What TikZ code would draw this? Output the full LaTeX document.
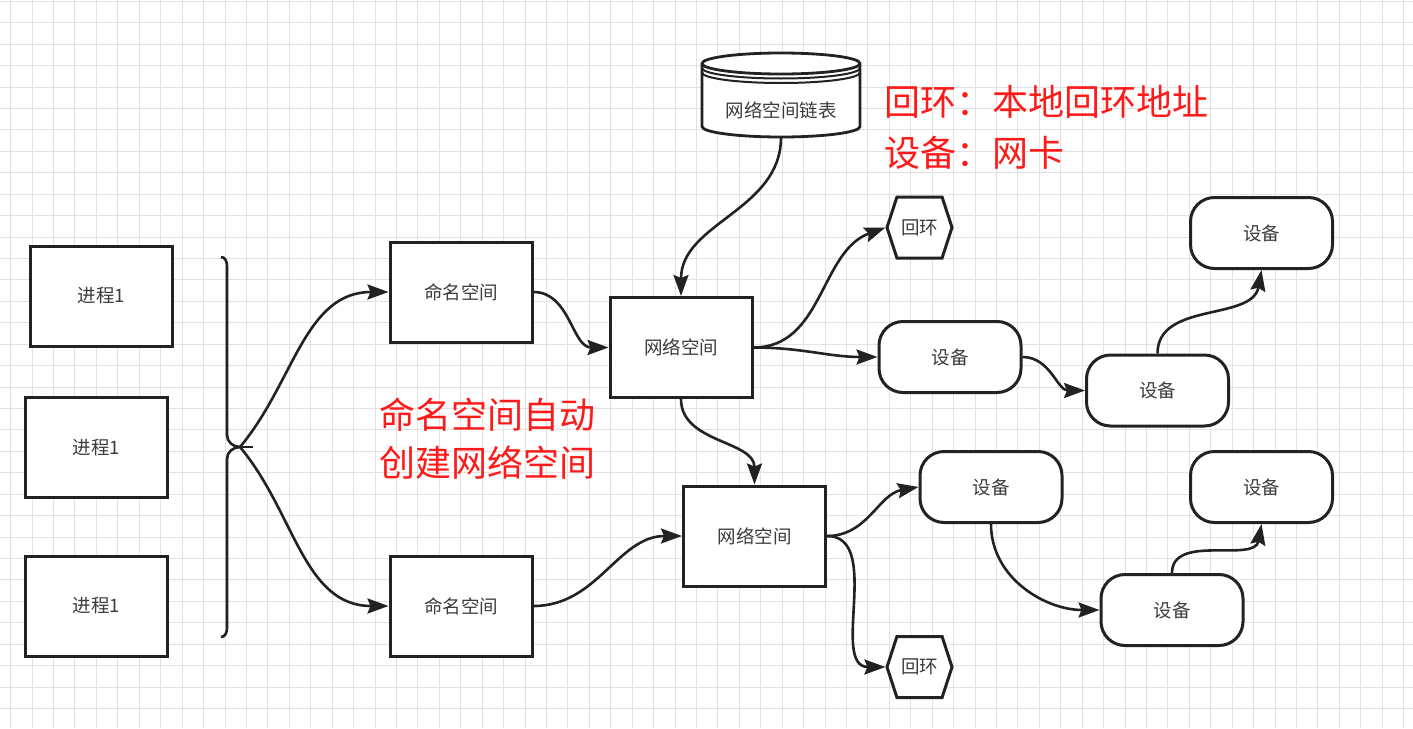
\documentclass[tikz,border=0pt]{standalone}
\usepackage{fontspec}
\newfontfamily\cjk{Noto Sans CJK SC}
\usetikzlibrary{arrows.meta,shapes.symbols}

\definecolor{inkgray}{HTML}{222222}
\definecolor{txtgray}{HTML}{3C3C3C}
\definecolor{gridgray}{HTML}{E2E2E2}
\definecolor{notered}{HTML}{FF1A1A}

\tikzset{
  box/.style={draw=inkgray,line width=3pt,fill=white,minimum width=142pt,minimum height=100pt,inner sep=0pt,text=txtgray,font=\cjk\fontsize{18.5}{22}\selectfont},
  dev/.style={box,rounded corners=24pt,minimum height=71pt},
  loopbox/.style={box,signal,signal to=west and east,signal pointer angle=144,minimum width=65pt,minimum height=61pt},
  plain/.style={inner sep=0pt,text=txtgray,font=\cjk\fontsize{18.5}{22}\selectfont},
  link/.style={draw=inkgray,line width=2.6pt,-{Stealth[length=21pt,width=15pt,inset=3pt]}},
  note/.style={inner sep=0pt,text=notered,align=left,font=\cjk\fontsize{36}{48}\selectfont},
  gridline/.style={draw=gridgray,line width=1pt},
}

\begin{document}
\begin{tikzpicture}[x=1pt,y=-1pt]
\useasboundingbox (0,0) rectangle (1413,728);
\fill[white] (0,0) rectangle (1413,728);

% grid
\foreach \i in {0,...,65}
  \draw[gridline] ({10.7+21.43*\i},0) -- ({10.7+21.43*\i},728);
\foreach \j in {0,...,33}
  \draw[gridline] (0,{1.3+21.43*\j}) -- (1413,{1.3+21.43*\j});

% processes
\node[box] (proc1) at (101.5,296) {进程1};
\node[box] (proc2) at (96.5,447.5) {进程1};
\node[box] (proc3) at (96.5,606) {进程1};

% brace
\draw[inkgray,line width=2.6pt] (221,257) to[out=0,in=90] (227,266) -- (227,435)
  to[out=-90,in=180] (240,447) to[out=180,in=90] (227,459) -- (227,628)
  to[out=-90,in=0] (221,637);
\coordinate (tip) at (240,447);
\draw[inkgray,line width=2.6pt] (tip) -- (253,447);

% namespaces
\node[box] (ns1) at (461,292) {命名空间};
\node[box] (ns2) at (461,606) {命名空间};

% list of network spaces
\filldraw[fill=white,draw=inkgray,line width=2.8pt] (702,63.5) -- (702,126.5)
  arc[start angle=180,end angle=360,x radius=79pt,y radius=10.5pt] -- (860,63.5)
  arc[start angle=0,end angle=180,x radius=79pt,y radius=10.5pt] -- cycle;
\draw[inkgray,line width=2.8pt] (702,63.5) arc[start angle=180,end angle=360,x radius=79pt,y radius=10.5pt];
\draw[inkgray,line width=2pt] (702,68) arc[start angle=180,end angle=360,x radius=79pt,y radius=10.5pt];
\draw[inkgray,line width=2pt] (702,72.5) arc[start angle=180,end angle=360,x radius=79pt,y radius=10.5pt];
\node[plain,minimum width=158pt,minimum height=84pt] (db) at (781,95) {};
\node[plain] (dbname) at (781,110) {网络空间链表};

% network spaces
\node[box] (net1) at (681,347.5) {网络空间};
\node[box] (net2) at (754.5,536) {网络空间};

% loopbacks
\node[loopbox] (lo1) at (919.5,227.5) {回环};
\node[loopbox] (lo2) at (919.5,667) {回环};

% devices
\node[dev] (dev1) at (950,357) {设备};
\node[dev] (dev2) at (1157.5,390.5) {设备};
\node[dev] (dev3) at (1261.5,233) {设备};
\node[dev] (dev4) at (991,487) {设备};
\node[dev] (dev5) at (1261.5,487) {设备};
\node[dev] (dev6) at (1172,610) {设备};

% notes
\node[note,anchor=west] (autonote) at (379,439) {命名空间自动\\创建网络空间};
\node[note,anchor=west,font=\cjk\fontsize{36}{51}\selectfont] (legend) at (884,127.5) {回环：本地回环地址\\设备：网卡};

% connectors
\draw[link] (tip) to[out=50,in=180] (ns1.west);
\draw[link] (tip) to[out=-50,in=180] (ns2.west);
\draw[link] (ns1.east) to[out=0,in=180] (net1.west);
\draw[link] (db.south) to[out=-90,in=90] (net1.north);
\draw[link] (net1.south) to[out=-90,in=90] (net2.north);
\draw[link] (net1.east) to[out=0,in=200] (lo1.west);
\draw[link] (net1.east) to[out=0,in=180] (dev1.west);
\draw[link] (dev1.east) to[out=0,in=180] (dev2.west);
\draw[link] (dev2.north) to[out=90,in=-100] (dev3.south);
\draw[link] (ns2.east) to[out=0,in=180] (net2.west);
\draw[link] (net2.east) to[out=0,in=190] (dev4.west);
\draw[link] (net2.east) to[out=0,in=180] (lo2.west);
\draw[link] (dev4.south) to[out=-90,in=180] (dev6.west);
\draw[link] (dev6.north) to[out=90,in=-100] (dev5.south);
\end{tikzpicture}
\end{document}
